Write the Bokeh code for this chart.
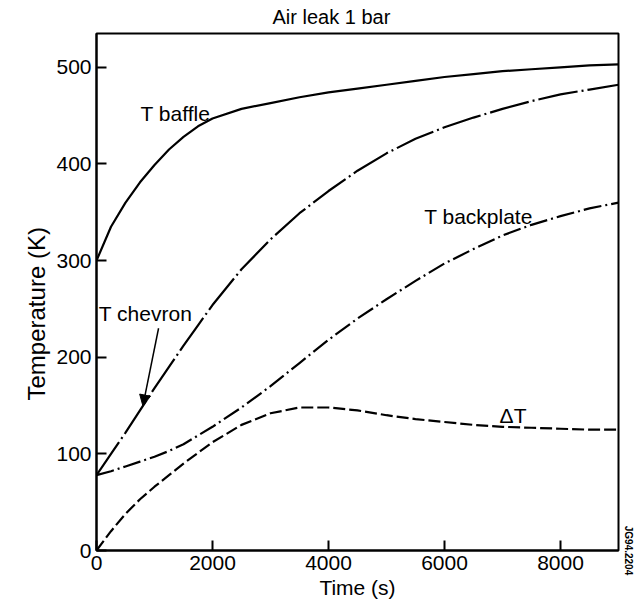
import numpy as np
from bokeh.plotting import figure
from bokeh.models import Range1d, Label, Arrow, NormalHead, FixedTicker, LinearAxis, Title
from bokeh.embed import file_html
from bokeh.resources import INLINE

# Temperatures (K) versus time (s) for an air leak at 1 bar
time_s = [0, 250, 500, 750, 1000, 1250, 1500, 1750, 2000, 2500, 3000, 3500,
          4000, 4500, 5000, 5500, 6000, 6500, 7000, 7500, 8000, 8500, 9000]
t_baffle = [300, 335, 360, 381, 399, 415, 428, 439, 447, 457, 463, 469,
            474, 478, 482, 486, 490, 493, 496, 498, 500, 502, 503]
t_chevron = [78, 100, 122, 145, 168, 190, 212, 233, 254, 291, 322, 349,
             372, 393, 411, 426, 438, 448, 457, 465, 472, 477, 482]
t_backplate = [78, 82, 87, 92, 97, 103, 110, 119, 128, 148, 170, 194,
               218, 240, 260, 279, 297, 312, 326, 337, 346, 354, 360]
delta_t = [0, 20, 38, 53, 66, 78, 90, 101, 112, 130, 142, 148,
           148, 145, 140, 136, 133, 130, 128, 127, 126, 125, 125]

x_ticks = [0, 2000, 4000, 6000, 8000]
y_ticks = [0, 100, 200, 300, 400, 500]

FONT = "Liberation Sans"

p = figure(width=640, height=608, output_backend="svg", toolbar_location=None,
           x_range=Range1d(0, 9000), y_range=Range1d(0, 535),
           min_border_left=96, min_border_right=22, min_border_top=33,
           min_border_bottom=58, background_fill_color="white",
           border_fill_color="white")

p.title.text = "Air leak 1 bar"
p.title.align = "left"
p.title.offset = 176
p.title.text_font = FONT
p.title.text_font_size = "20px"
p.title.text_font_style = "normal"
p.title.text_color = "black"
p.title.standoff = 8
p.title.vertical_align = "top"

p.grid.visible = False
p.outline_line_color = "black"
p.outline_line_width = 2

for ax in (p.xaxis[0], p.yaxis[0]):
    ax.axis_line_width = 2
    ax.axis_line_color = "black"
    ax.major_tick_in = 10
    ax.major_tick_out = 0
    ax.major_tick_line_width = 2
    ax.minor_tick_line_color = None
    ax.major_label_text_font = FONT
    ax.major_label_text_font_size = "21px"
    ax.major_label_text_color = "black"
    ax.axis_label_text_font = FONT
    ax.axis_label_text_font_style = "normal"
    ax.axis_label_text_color = "black"

p.xaxis.ticker = FixedTicker(ticks=x_ticks)
p.yaxis.ticker = FixedTicker(ticks=y_ticks)
p.xaxis.axis_label = "Time (s)"
p.xaxis.axis_label_text_font_size = "21px"
p.xaxis.major_label_standoff = 5
p.yaxis.major_label_standoff = 5
p.xaxis.axis_label_standoff = 3

# vertical axis title, set a little below the frame centre
p.add_layout(Title(text="Temperature (K)", align="left", offset=150,
                   text_font=FONT, text_font_size="24px", text_font_style="normal",
                   text_color="black", standoff=8), "left")

# drawing number along the right edge
tag_axis = LinearAxis(ticker=FixedTicker(ticks=[]), axis_line_color=None,
                      major_tick_line_color=None, minor_tick_line_color=None,
                      major_label_text_font_size="0px", axis_label="JG94.2204",
                      axis_label_text_font=FONT, axis_label_text_font_size="10px",
                      axis_label_text_font_style="bold", axis_label_text_color="black",
                      axis_label_standoff=4)
if "axis_label_align" in tag_axis.properties():
    tag_axis.axis_label_align = "start"
p.add_layout(tag_axis, "right")

p.line(time_s, t_baffle, line_color="black", line_width=2.2)
p.line(time_s, t_chevron, line_color="black", line_width=2.2, line_dash="40 4 2 4")
p.line(time_s, t_backplate, line_color="black", line_width=2.2, line_dash="18 4 2 4")
p.line(time_s, delta_t, line_color="black", line_width=2.2, line_dash="12 4")

def note(x, y, text, size="21px"):
    p.add_layout(Label(x=x, y=y, text=text, text_font=FONT, text_font_size=size,
                       text_color="black", text_baseline="middle", text_align="left"))

note(760, 452, "T baffle")
note(40, 245, "T chevron")
note(5650, 346, "T backplate")
note(6950, 140, "\u0394T")

# arrow pointing at the chevron curve
tip_t = 800
tip_T = float(np.interp(tip_t, time_s, t_chevron))
p.add_layout(Arrow(x_start=1070, y_start=230, x_end=tip_t, y_end=tip_T,
                   line_color="black", line_width=1.5,
                   end=NormalHead(size=11, fill_color="black", line_color="black")))

open("out.html", "w").write(file_html(p, INLINE))
